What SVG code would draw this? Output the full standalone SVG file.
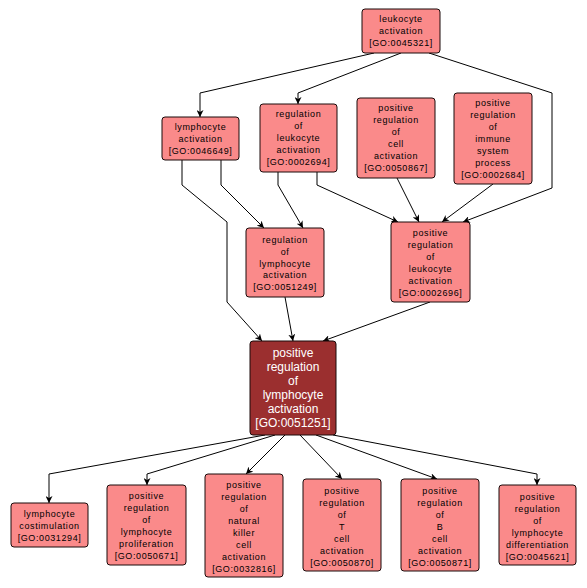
<svg xmlns="http://www.w3.org/2000/svg" width="587" height="588" viewBox="0 0 587 588">
<style>
rect.n{fill:#fa8a8a;stroke:#1a0a0a;stroke-width:1}
rect.m{fill:#9b2f2f;stroke:#1a0a0a;stroke-width:1}
text{font-family:"Liberation Sans",Arial,sans-serif;text-anchor:middle}
text.s{font-size:9px;letter-spacing:0.6px;fill:#000}
text.w{font-size:12px;fill:#fff}
#edges path{fill:none;stroke:#000;stroke-width:1;marker-end:url(#a)}
</style>
<defs>
<marker id="a" viewBox="0 0 10 10" refX="10" refY="5" markerWidth="7" markerHeight="7" markerUnits="userSpaceOnUse" orient="auto">
<path d="M0,0 L10,5 L0,10 L3,5 z" fill="#000"/>
</marker>
</defs>
<rect width="587" height="588" fill="#fff"/>
<g id="edges">
<path d="M374,53 L200,93 L200,117"/>
<path d="M401,53 L298,93 L298,104"/>
<path d="M429,53 L552,93 L552,188 L463,222"/>
<path d="M493,184 L442,222"/>
<path d="M397,178 L419,222"/>
<path d="M317,172 L317,185 L398,222"/>
<path d="M278,172 L278,185 L303,228"/>
<path d="M221,160 L221,185 L264,228"/>
<path d="M182,160 L182,185 L227,222 L227,302 L262,341"/>
<path d="M285,297 L293,341"/>
<path d="M430,302 L323,341"/>
<path d="M265,435 L49,474 L49,503"/>
<path d="M275,435 L147,474 L147,485"/>
<path d="M285,435 L246,474"/>
<path d="M300,435 L342,479"/>
<path d="M316,435 L437,479"/>
<path d="M333,435 L537,474 L537,485"/>
</g>
<g id="GO0045321">
<rect class="n" x="362" y="9" width="78" height="44" rx="3"/>
<text class="s" x="401" y="22">leukocyte</text>
<text class="s" x="401" y="34">activation</text>
<text class="s" x="401" y="46">[GO:0045321]</text>
</g>
<g id="GO0046649">
<rect class="n" x="162" y="117" width="77" height="43" rx="3"/>
<text class="s" x="200.5" y="130">lymphocyte</text>
<text class="s" x="200.5" y="142">activation</text>
<text class="s" x="200.5" y="154">[GO:0046649]</text>
</g>
<g id="GO0002694">
<rect class="n" x="260" y="104" width="77" height="68" rx="3"/>
<text class="s" x="298.5" y="117">regulation</text>
<text class="s" x="298.5" y="129">of</text>
<text class="s" x="298.5" y="141">leukocyte</text>
<text class="s" x="298.5" y="153">activation</text>
<text class="s" x="298.5" y="165">[GO:0002694]</text>
</g>
<g id="GO0050867">
<rect class="n" x="357" y="98" width="78" height="80" rx="3"/>
<text class="s" x="396" y="111">positive</text>
<text class="s" x="396" y="123">regulation</text>
<text class="s" x="396" y="135">of</text>
<text class="s" x="396" y="147">cell</text>
<text class="s" x="396" y="159">activation</text>
<text class="s" x="396" y="171">[GO:0050867]</text>
</g>
<g id="GO0002684">
<rect class="n" x="454" y="93" width="78" height="91" rx="3"/>
<text class="s" x="493" y="106">positive</text>
<text class="s" x="493" y="118">regulation</text>
<text class="s" x="493" y="130">of</text>
<text class="s" x="493" y="142">immune</text>
<text class="s" x="493" y="154">system</text>
<text class="s" x="493" y="166">process</text>
<text class="s" x="493" y="178">[GO:0002684]</text>
</g>
<g id="GO0051249">
<rect class="n" x="246" y="228" width="78" height="69" rx="3"/>
<text class="s" x="285" y="243">regulation</text>
<text class="s" x="285" y="255">of</text>
<text class="s" x="285" y="267">lymphocyte</text>
<text class="s" x="285" y="278">activation</text>
<text class="s" x="285" y="290">[GO:0051249]</text>
</g>
<g id="GO0002696">
<rect class="n" x="391" y="222" width="79" height="80" rx="3"/>
<text class="s" x="430.5" y="236">positive</text>
<text class="s" x="430.5" y="248">regulation</text>
<text class="s" x="430.5" y="260">of</text>
<text class="s" x="430.5" y="272">leukocyte</text>
<text class="s" x="430.5" y="284">activation</text>
<text class="s" x="430.5" y="296">[GO:0002696]</text>
</g>
<g id="GO0051251">
<rect class="m" x="250" y="341" width="86" height="94" rx="3"/>
<text class="w" x="293" y="357">positive</text>
<text class="w" x="293" y="371">regulation</text>
<text class="w" x="293" y="385">of</text>
<text class="w" x="293" y="399">lymphocyte</text>
<text class="w" x="293" y="413">activation</text>
<text class="w" x="293" y="427">[GO:0051251]</text>
</g>
<g id="GO0031294">
<rect class="n" x="11" y="503" width="77" height="44" rx="3"/>
<text class="s" x="49.5" y="517">lymphocyte</text>
<text class="s" x="49.5" y="529">costimulation</text>
<text class="s" x="49.5" y="541">[GO:0031294]</text>
</g>
<g id="GO0050671">
<rect class="n" x="107" y="485" width="79" height="80" rx="3"/>
<text class="s" x="146.5" y="499">positive</text>
<text class="s" x="146.5" y="511">regulation</text>
<text class="s" x="146.5" y="523">of</text>
<text class="s" x="146.5" y="535">lymphocyte</text>
<text class="s" x="146.5" y="547">proliferation</text>
<text class="s" x="146.5" y="559">[GO:0050671]</text>
</g>
<g id="GO0032816">
<rect class="n" x="205" y="474" width="78" height="103" rx="3"/>
<text class="s" x="244" y="488">positive</text>
<text class="s" x="244" y="500">regulation</text>
<text class="s" x="244" y="512">of</text>
<text class="s" x="244" y="524">natural</text>
<text class="s" x="244" y="536">killer</text>
<text class="s" x="244" y="548">cell</text>
<text class="s" x="244" y="560">activation</text>
<text class="s" x="244" y="572">[GO:0032816]</text>
</g>
<g id="GO0050870">
<rect class="n" x="303" y="479" width="78" height="92" rx="3"/>
<text class="s" x="342" y="494">positive</text>
<text class="s" x="342" y="506">regulation</text>
<text class="s" x="342" y="518">of</text>
<text class="s" x="342" y="530">T</text>
<text class="s" x="342" y="542">cell</text>
<text class="s" x="342" y="554">activation</text>
<text class="s" x="342" y="566">[GO:0050870]</text>
</g>
<g id="GO0050871">
<rect class="n" x="401" y="479" width="78" height="92" rx="3"/>
<text class="s" x="440" y="494">positive</text>
<text class="s" x="440" y="506">regulation</text>
<text class="s" x="440" y="518">of</text>
<text class="s" x="440" y="530">B</text>
<text class="s" x="440" y="542">cell</text>
<text class="s" x="440" y="554">activation</text>
<text class="s" x="440" y="566">[GO:0050871]</text>
</g>
<g id="GO0045621">
<rect class="n" x="499" y="485" width="77" height="80" rx="3"/>
<text class="s" x="537.5" y="500">positive</text>
<text class="s" x="537.5" y="512">regulation</text>
<text class="s" x="537.5" y="524">of</text>
<text class="s" x="537.5" y="536">lymphocyte</text>
<text class="s" x="537.5" y="548">differentiation</text>
<text class="s" x="537.5" y="560">[GO:0045621]</text>
</g>
</svg>
